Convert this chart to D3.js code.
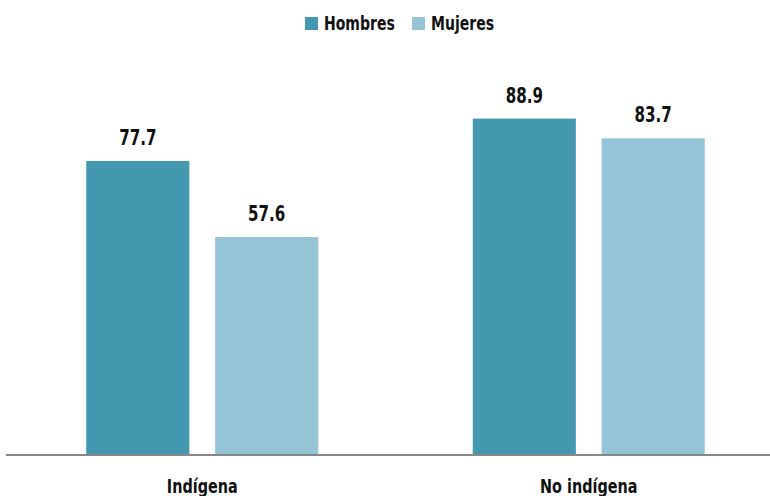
<!DOCTYPE html>
<html>
<head>
<meta charset="utf-8">
<script src="https://cdn.jsdelivr.net/npm/d3@7"></script>
<style>
  body { margin: 0; background: #fff; }
  svg text { font-family: "DejaVu Sans Condensed", "DejaVu Sans", sans-serif; font-stretch: condensed; fill: #111; }
</style>
</head>
<body>
<svg id="chart" width="770" height="496"></svg>
<script>
const categories = ["Indígena", "No indígena"];
const seriesNames = ["Hombres", "Mujeres"];
const hombres = [77.7, 88.9];
const mujeres = [57.6, 83.7];
const colors = ["#4398b0", "#94c4d6"];

const baseY = 455;
const squeeze = 0.8; // narrow the glyphs, the original uses a condensed face

const svg = d3.select("#chart");

const x = d3.scaleBand().domain(categories).range([9, 782]).padding(0);
const xInner = d3.scaleBand().domain(seriesNames).range([-116, 116]).paddingInner(0.2).paddingOuter(0);
const y = d3.scaleLinear().domain([0, 100]).range([baseY, baseY - 378.4]);

const rows = categories.map((c, i) => ({ cat: c, values: [hombres[i], mujeres[i]] }));

const groups = svg.append("g")
  .selectAll("g")
  .data(rows)
  .join("g")
  .attr("transform", (d) => `translate(${x(d.cat) + x.bandwidth() / 2},0)`);

groups.selectAll("rect")
  .data((d) => d.values.map((v, j) => ({ name: seriesNames[j], v, j })))
  .join("rect")
  .attr("x", (d) => xInner(d.name))
  .attr("y", (d) => y(d.v))
  .attr("width", xInner.bandwidth())
  .attr("height", (d) => y(0) - y(d.v))
  .attr("fill", (d) => colors[d.j]);

groups.selectAll("text.val")
  .data((d) => d.values.map((v, j) => ({ name: seriesNames[j], v, j })))
  .join("text")
  .attr("class", "val")
  .attr("transform", (d) => `translate(${xInner(d.name) + xInner.bandwidth() / 2},${y(d.v) - 16}) scale(${squeeze},1)`)
  .attr("text-anchor", "middle")
  .attr("font-size", 21)
  .attr("font-weight", "bold")
  .text((d) => d.v.toFixed(1));

// baseline + category labels
const xAxis = d3.axisBottom(x).tickSize(0).tickPadding(0);
const gx = svg.append("g").attr("transform", `translate(0,${baseY})`).call(xAxis);
gx.select(".domain").attr("stroke", "#888").attr("stroke-width", 2).attr("d", "M6,0H770");
gx.selectAll("text")
  .attr("y", 0)
  .attr("dy", 0)
  .attr("transform", `translate(0,38) scale(${squeeze},1)`)
  .attr("font-size", 20)
  .attr("font-weight", "bold")
  .attr("font-family", null)
  .attr("fill", "#111");

// legend
const legendX = [305, 412];
const legend = svg.append("g")
  .selectAll("g")
  .data(seriesNames)
  .join("g")
  .attr("transform", (d, i) => `translate(${legendX[i]},17)`);
legend.append("rect").attr("width", 13).attr("height", 13).attr("fill", (d, i) => colors[i]);
legend.append("text")
  .attr("transform", `translate(19,13) scale(${squeeze},1)`)
  .attr("font-size", 19.5)
  .attr("font-weight", "bold")
  .text((d) => d);
</script>
</body>
</html>
